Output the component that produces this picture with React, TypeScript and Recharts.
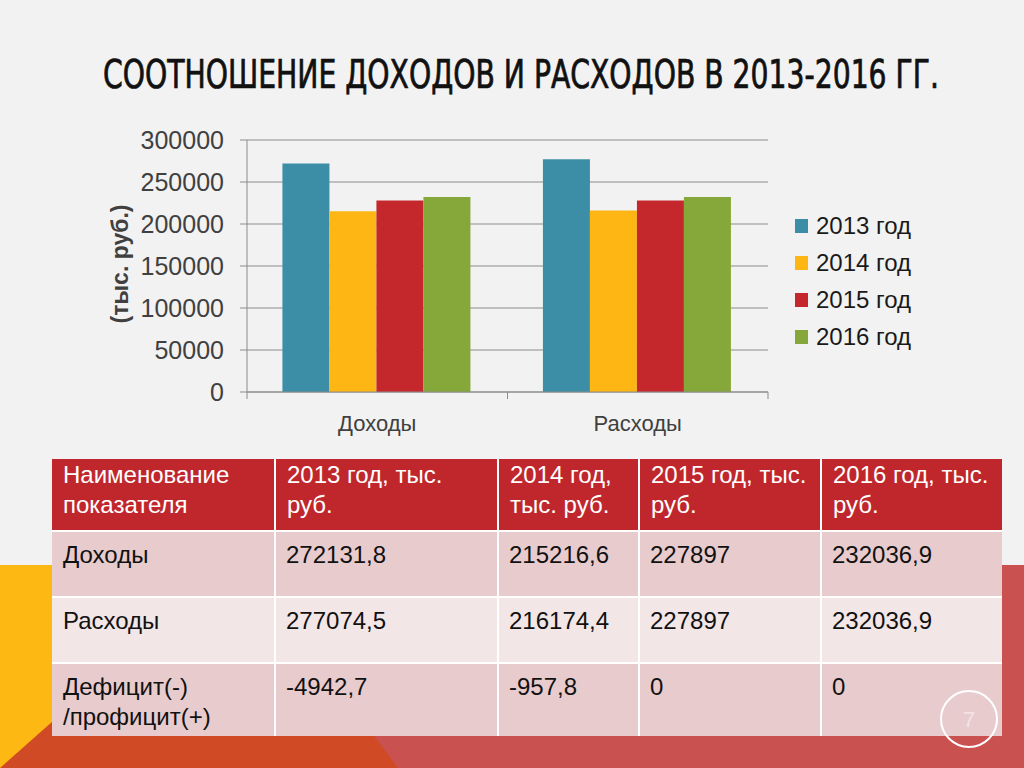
import React from 'react';
import { BarChart, Bar, XAxis, YAxis, CartesianGrid, Legend } from 'recharts';

const categories = ['Доходы', 'Расходы'];
const seriesNames = ['2013 год', '2014 год', '2015 год', '2016 год'];
const seriesKeys = ['y2013', 'y2014', 'y2015', 'y2016'];
const seriesColors = ['#3B8EA6', '#FDB614', '#C4282D', '#86A83A'];
const values2013 = [272131.8, 277074.5];
const values2014 = [215216.6, 216174.4];
const values2015 = [227897, 227897];
const values2016 = [232036.9, 232036.9];
const yTicks = [0, 50000, 100000, 150000, 200000, 250000, 300000];

const tableHeader = ['Наименование\nпоказателя', '2013 год, тыс.\nруб.', '2014 год,\nтыс. руб.', '2015 год, тыс.\nруб.', '2016 год, тыс.\nруб.'];
const tableRowLabels = ['Доходы', 'Расходы', 'Дефицит(-)\n/профицит(+)'];
const tableRow1 = ['272131,8', '215216,6', '227897', '232036,9'];
const tableRow2 = ['277074,5', '216174,4', '227897', '232036,9'];
const tableRow3 = ['-4942,7', '-957,8', '0', '0'];

const seriesValues = [values2013, values2014, values2015, values2016];
const data = categories.map((c, i) => {
  const row: any = { name: c };
  seriesKeys.forEach((k, j) => { row[k] = seriesValues[j][i]; });
  return row;
});

const FONT = '"Liberation Sans", Arial, sans-serif';
const TICK_SIZE = 7;
const TICK_MARGIN = 2;

const XTick = (props: any) => {
  const { x, y, payload, width, visibleTicksCount, index } = props;
  const half = width / visibleTicksCount / 2;
  const axisY = y - TICK_SIZE - TICK_MARGIN;
  return (
    <g>
      <line x1={x - half} x2={x - half} y1={axisY} y2={axisY + TICK_SIZE} stroke="#8c8c8c" strokeWidth={1} />
      {index === visibleTicksCount - 1 && (
        <line x1={x + half} x2={x + half} y1={axisY} y2={axisY + TICK_SIZE} stroke="#8c8c8c" strokeWidth={1} />
      )}
      <text x={x} y={y} dy={30} textAnchor="middle" fill="#404040" fontSize={22} fontFamily={FONT}>
        {payload.value}
      </text>
    </g>
  );
};

const YLabel = (props: any) => {
  const { viewBox } = props;
  const cx = viewBox.x + viewBox.width / 2 - 4;
  const cy = viewBox.y + viewBox.height / 2 - 2;
  return (
    <text x={cx} y={cy} transform={`rotate(-90, ${cx}, ${cy})`} textAnchor="middle" dominantBaseline="central"
      fill="#404040" fontSize={23} fontWeight="bold" fontFamily={FONT}>
      (тыс. руб.)
    </text>
  );
};

const renderLegend = (props: any) => {
  const { payload } = props;
  return (
    <div style={{ paddingLeft: 27 }}>
      {payload.map((e: any) => (
        <div key={e.value} style={{ height: 37, display: 'flex', alignItems: 'center', fontSize: 24, color: '#1a1a1a', fontFamily: FONT }}>
          <span style={{ width: 13, height: 14, background: e.color, marginRight: 8, display: 'inline-block' }} />
          <span>{e.value}</span>
        </div>
      ))}
    </div>
  );
};

const colWidths = [222, 221, 139, 180, 180];
const rowHeights = [71, 64, 64, 72];

export default function App() {
  const bodyRows = [tableRow1, tableRow2, tableRow3];
  const rowColors = ['#E8CBCC', '#F3E6E7', '#E8CBCC'];
  return (
    <div style={{ position: 'absolute', left: 0, top: 0, width: 1024, height: 768, background: '#F2F2F2', overflow: 'hidden' }}>
      <svg width={1024} height={768} style={{ position: 'absolute', left: 0, top: 0 }}>
        <rect x={0} y={565} width={300} height={203} fill="#FDB813" />
        <rect x={300} y={565} width={724} height={203} fill="#C95250" />
        <polygon points="0,768 150,635 318,660 398,768" fill="#D04A25" />
      </svg>

      <div style={{ position: 'absolute', left: 0, top: 0, width: 1024, height: 120 }}>
        <svg width={1024} height={120}>
          <g transform="translate(0,88) scale(1,1.2)">
            <text x={103} y={0} textLength={836} lengthAdjust="spacingAndGlyphs" fontSize={32}
              fontFamily='"DejaVu Sans Condensed", sans-serif' fill="#111" stroke="#111" strokeWidth={0.6}>
              СООТНОШЕНИЕ ДОХОДОВ И РАСХОДОВ В 2013-2016 ГГ.
            </text>
          </g>
        </svg>
      </div>

      <div style={{ position: 'absolute', left: 0, top: 0 }}>
        <BarChart width={1024} height={450} data={data} margin={{ top: 140, right: 56, bottom: 18, left: 0 }}
          barCategoryGap="13.6%" barGap={0}>
          <CartesianGrid horizontal vertical={false} stroke="#8c8c8c" strokeWidth={1} />
          <XAxis dataKey="name" height={40} tickLine={false} tickSize={TICK_SIZE} tickMargin={TICK_MARGIN}
            axisLine={{ stroke: '#8c8c8c' }} tick={<XTick />} interval={0} />
          <YAxis width={247} domain={[0, 300000]} ticks={yTicks} interval={0} tickSize={TICK_SIZE} tickMargin={16}
            axisLine={{ stroke: '#8c8c8c' }} tickLine={{ stroke: '#8c8c8c' }}
            tick={{ fill: '#404040', fontSize: 25, fontFamily: FONT }}
            label={<YLabel />} />
          <Legend layout="vertical" align="right" verticalAlign="middle" content={renderLegend}
            wrapperStyle={{ left: 768, top: 207, width: 200 }} />
          {seriesKeys.map((k, i) => (
            <Bar key={k} dataKey={k} name={seriesNames[i]} fill={seriesColors[i]} isAnimationActive={false} />
          ))}
        </BarChart>
      </div>

      <div style={{ position: 'absolute', left: 52, top: 459, background: '#FFFFFF', display: 'grid',
        gridTemplateColumns: colWidths.map(w => w + 'px').join(' '), gridTemplateRows: rowHeights.map(h => h + 'px').join(' '),
        gap: 2, padding: 0, fontFamily: FONT, fontSize: 24, lineHeight: '30px' }}>
        {tableHeader.map((h, i) => (
          <div key={'h' + i} style={{ background: '#C0272D', color: '#FFFFFF', whiteSpace: 'pre-line', padding: '1px 10px 0 11px' }}>{h}</div>
        ))}
        {bodyRows.map((r, ri) => (
          <React.Fragment key={'r' + ri}>
            <div style={{ background: rowColors[ri], color: '#111', whiteSpace: 'pre-line', padding: '8px 10px 0 11px' }}>{tableRowLabels[ri]}</div>
            {r.map((v, ci) => (
              <div key={ci} style={{ background: rowColors[ri], color: '#111', padding: '8px 10px 0 10px' }}>{v}</div>
            ))}
          </React.Fragment>
        ))}
      </div>

      <svg width={1024} height={768} style={{ position: 'absolute', left: 0, top: 0, pointerEvents: 'none' }}>
        <circle cx={969} cy={719} r={28} fill="none" stroke="#FFFFFF" strokeWidth={2} />
        <text x={969} y={727} textAnchor="middle" fontSize={22} fontFamily={FONT} fill="#F6E3E3">7</text>
      </svg>
    </div>
  );
}
